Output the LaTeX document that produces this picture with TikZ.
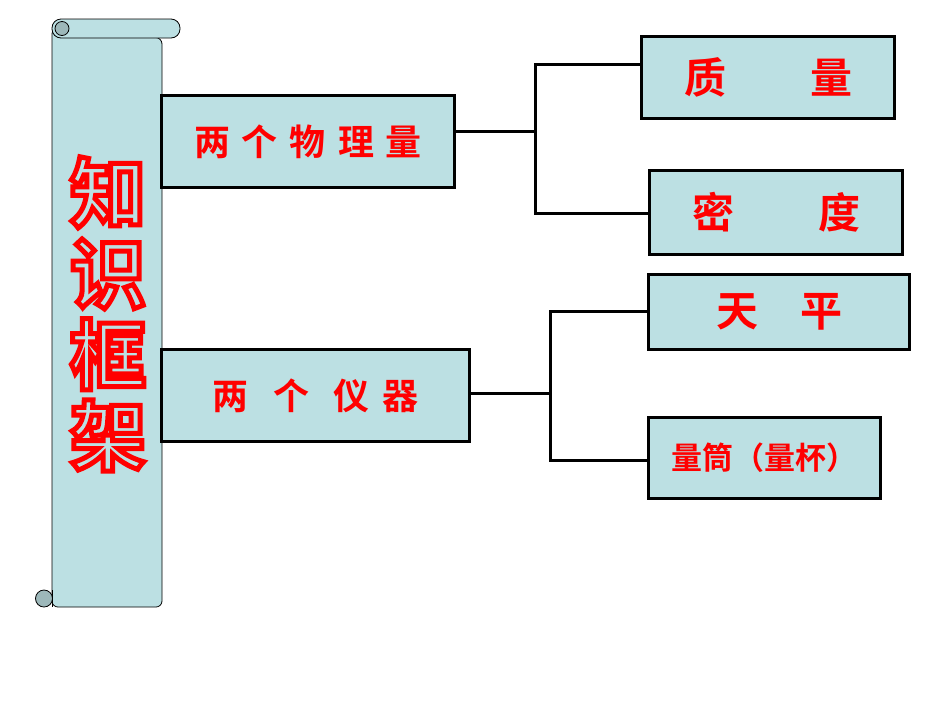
\documentclass[tikz,border=0pt]{standalone}
\usepackage{fontspec}
\newfontfamily\cjk{Noto Sans CJK SC}[BoldFont={* Bold}]
\begin{document}
\begin{tikzpicture}[x=1pt,y=-1pt,
  bx/.style={draw=black,line width=3pt,fill=boxc,inner sep=0pt},
  tx/.style={text=red,font=\cjk\bfseries\fontsize{36}{36}\selectfont},
  ln/.style={line width=3pt}]
\definecolor{boxc}{HTML}{BCE0E3}
\definecolor{curl}{HTML}{9DB8BA}
\useasboundingbox (0,0) rectangle (950,713);
% scroll
\draw[fill=boxc,line width=0.8pt,rounded corners=6pt] (52,28) -- (52,607) -- (162,607) -- (162,38) -- cycle;
\draw[fill=boxc,line width=0.8pt,rounded corners=9pt] (52,19) rectangle (180,38);
\draw[fill=curl,line width=0.8pt] (62,28.5) circle (7);
\draw[fill=curl,line width=0.8pt] (44,598.5) circle (8.5);
\draw[line width=0.8pt] (52,590) -- (52,607);
\node (title) [align=center,red,font=\cjk\bfseries\fontsize{76}{81}\selectfont] at (108,314)
 {\special{pdf:literal direct 1 Tr 5 w}知\\识\\框\\架\special{pdf:literal direct 0 Tr}};
% boxes
\node (a) [bx,minimum width=293,minimum height=92,anchor=north west,tx] at (160,94) {两\,\,个\,\,物\,\,理\,\,量};
\node (b) [bx,minimum width=308,minimum height=92,anchor=north west,tx] at (160,348) {两\ \ \ 个\ \ \ 仪\,\,器};
\node (c) [bx,minimum width=253,minimum height=82,anchor=north west,tx,font=\cjk\bfseries\fontsize{42}{42}\selectfont] at (640,35) {质\qquad 量};
\node (d) [bx,minimum width=253,minimum height=84,anchor=north west,tx,font=\cjk\bfseries\fontsize{42}{42}\selectfont] at (648,169) {密\qquad 度};
\node (e) [bx,minimum width=261,minimum height=75,anchor=north west,tx,font=\cjk\bfseries\fontsize{42}{42}\selectfont] at (647,273) {天\quad 平};
\node (f) [bx,minimum width=232,minimum height=81,anchor=north west,tx,font=\cjk\bfseries\fontsize{31}{31}\selectfont] at (647,416) {量筒（量杯）};
% connectors
\coordinate (j1) at (535,131);
\coordinate (j2) at (550,393);
\draw[ln] (a.east |- j1) -- (j1);
\draw[ln] (c.west |- 0,64) -- (535,64) -- (535,213) -- (d.west |- 0,213);
\draw[ln] (b.east |- j2) -- (j2);
\draw[ln] (e.west |- 0,311) -- (550,311) -- (550,460) -- (f.west |- 0,460);
\end{tikzpicture}
\end{document}
